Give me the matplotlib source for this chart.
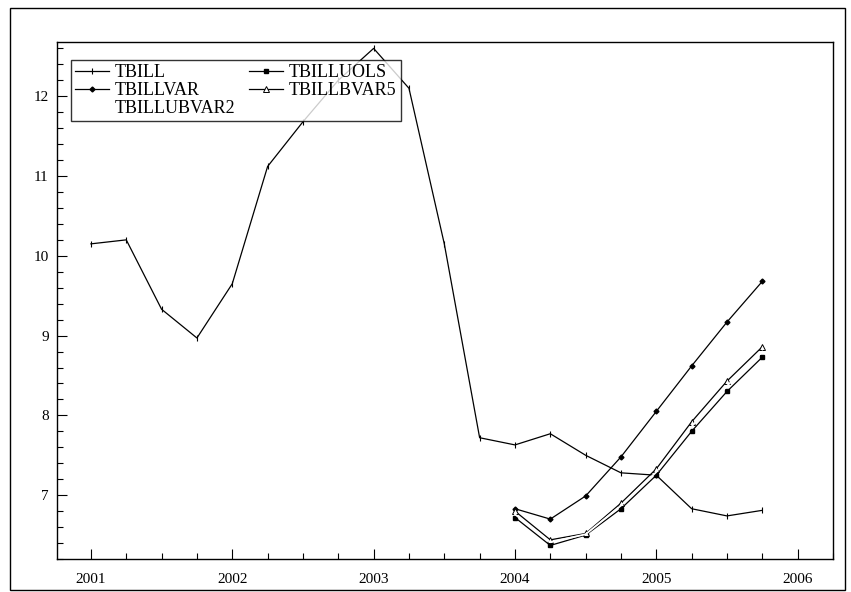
import numpy as np
import matplotlib
matplotlib.use("Agg")
import matplotlib.pyplot as plt
from matplotlib.patches import Rectangle
from matplotlib.ticker import MultipleLocator

plt.rcParams['font.family'] = ['Liberation Serif', 'DejaVu Serif']

# quarterly dates
t_hist = np.arange(2001.0, 2006.0, 0.25)
t_fc = np.arange(2004.0, 2006.0, 0.25)

tbill = [10.15, 10.20, 9.33, 8.97, 9.65, 11.12, 11.68, 12.20, 12.60, 12.10,
         10.15, 7.72, 7.63, 7.77, 7.50, 7.28, 7.25, 6.83, 6.74, 6.81]
tbillvar = [6.83, 6.70, 6.99, 7.48, 8.05, 8.62, 9.17, 9.68]
tbilluols = [6.72, 6.37, 6.50, 6.83, 7.25, 7.80, 8.30, 8.73]
tbillbvar5 = [6.80, 6.44, 6.52, 6.90, 7.33, 7.92, 8.43, 8.86]
tbillubvar2 = [6.76, 6.41, 6.51, 6.87, 7.29, 7.86, 8.37, 8.80]

fig = plt.figure(figsize=(8.51, 5.92), dpi=100)
ax = fig.add_axes([57/851, 1 - 559/592, (833-57)/851, (559-42)/592])

ax.plot(t_hist, tbill, 'k-', lw=0.9, marker='|', ms=5, mew=0.8, label='TBILL')
ax.plot(t_fc, tbillvar, 'k-', lw=0.9, marker='D', ms=2.5, label='TBILLVAR')
ax.plot(t_fc, tbilluols, 'k-', lw=0.9, marker='s', ms=3, label='TBILLUOLS')
ax.plot(t_fc, tbillbvar5, 'k-', lw=0.9, marker='^', ms=4, mfc='white', mew=0.7,
        label='TBILLBVAR5')
ax.plot(t_fc, tbillubvar2, '-', color='white', lw=1.3, label='TBILLUBVAR2')

ax.set_xlim(2000.76, 2006.25)
ax.set_ylim(6.2, 12.68)
ax.set_xticks([2001, 2002, 2003, 2004, 2005, 2006])
ax.set_yticks([7, 8, 9, 10, 11, 12])
ax.xaxis.set_minor_locator(MultipleLocator(0.25))
ax.yaxis.set_minor_locator(MultipleLocator(0.2))
ax.tick_params(which='both', direction='in', labelsize=11, color='black')
ax.tick_params(which='major', length=7, width=0.8)
ax.tick_params(which='minor', length=4, width=0.8)
ax.tick_params(axis='x', which='major', pad=10)
ax.tick_params(axis='y', which='major', pad=6)
for s in ax.spines.values():
    s.set_linewidth(1.0)

h, l = ax.get_legend_handles_labels()
order = [0, 1, 4, 2, 3]
leg = ax.legend([h[i] for i in order], [l[i] for i in order], ncol=2,
                loc='upper left', bbox_to_anchor=(0.0175, 0.966), fontsize=13,
                frameon=True, fancybox=False, edgecolor='black',
                handlelength=1.9, handletextpad=0.3, labelspacing=0.05,
                columnspacing=0.75, borderpad=0.25, borderaxespad=0.0)
leg.get_frame().set_linewidth(1.0)

fig.patches.append(Rectangle((10/851, 1 - 590/592), 835/851, 582/592,
                             transform=fig.transFigure, fill=False,
                             edgecolor='black', lw=1.0))

fig.savefig('out.png', dpi=100)
